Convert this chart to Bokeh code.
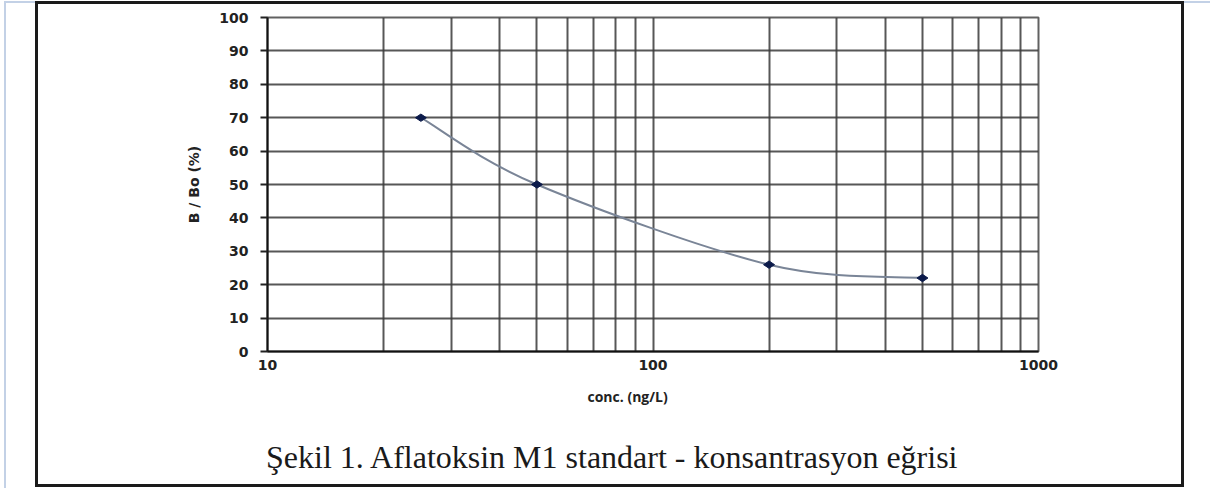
import numpy as np
from bokeh.plotting import figure
from bokeh.layouts import column
from bokeh.models import FixedTicker, Title, Div
from bokeh.embed import file_html
from bokeh.resources import INLINE

# ---- data ----
conc = [25, 50, 200, 500]          # ng/L
b_bo = [70, 50, 26, 22]            # B/Bo (%)
x_major_ticks = [10, 100, 1000]
x_minor_ticks = [20, 30, 40, 50, 60, 70, 80, 90, 200, 300, 400, 500, 600, 700, 800, 900]
y_ticks = [0, 10, 20, 30, 40, 50, 60, 70, 80, 90, 100]
x_label = "conc. (ng/L)"
y_label = "B / Bo (%)"
caption = "Şekil 1. Aflatoksin M1 standart - konsantrasyon eğrisi"

GRID = "#3a3a3a"
BLK = "#1a1a1a"
BLUE = "#c3d1e6"

def bar(color, x, y, w, h):
    return f"linear-gradient({color},{color}) {x}px {y}px / {w}px {h}px no-repeat"

frame_css = ", ".join([
    bar(BLK, 35, 1, 1149, 3),     # top
    bar(BLK, 35, 484, 1149, 3),   # bottom
    bar(BLK, 35, 1, 3, 486),      # left
    bar(BLK, 1181, 1, 3, 486),    # right
    bar(BLUE, 4, 1, 1206, 2),     # light-blue top
    bar(BLUE, 4, 1, 2, 487),      # light-blue left
])

p = figure(width=1210, height=430, x_axis_type="log",
           x_range=(10, 1000), y_range=(0, 100),
           output_backend="svg", toolbar_location=None,
           min_border_left=267, min_border_right=172,
           min_border_top=17, min_border_bottom=79)
p.background_fill_color = "white"
p.border_fill_alpha = 0
p.outline_line_color = GRID
p.outline_line_width = 2
p.outline_line_alpha = 0.8

# axes
p.xaxis.ticker = FixedTicker(ticks=x_major_ticks, minor_ticks=x_minor_ticks)
p.yaxis.ticker = FixedTicker(ticks=y_ticks)
p.xaxis.major_label_overrides = {t: str(t) for t in x_major_ticks}
for ax in (p.xaxis, p.yaxis):
    ax.axis_line_color = "#111111"
    ax.axis_line_width = 2
    ax.major_tick_in = 0
    ax.minor_tick_in = 0
    ax.minor_tick_out = 0
    ax.major_label_text_font = "DejaVu Sans"
    ax.major_label_text_font_style = "bold"
    ax.major_label_text_font_size = "14px"
    ax.major_label_text_color = "#222222"
p.yaxis.major_tick_out = 7
p.yaxis.major_tick_line_color = "#222222"
p.yaxis.major_tick_line_width = 2
p.yaxis.major_label_standoff = 12
p.xaxis.major_tick_out = 0
p.xaxis.major_label_standoff = 8

p.yaxis.axis_label = y_label
p.yaxis.axis_label_text_font = "DejaVu Sans"
p.yaxis.axis_label_text_font_style = "bold"
p.yaxis.axis_label_text_font_size = "14px"
p.yaxis.axis_label_text_color = "#222222"
p.yaxis.axis_label_standoff = 14

# grids
p.xgrid.ticker = p.xaxis.ticker
p.ygrid.ticker = p.yaxis.ticker
for g in (p.xgrid, p.ygrid):
    g.grid_line_color = GRID
    g.grid_line_width = 2
    g.grid_line_alpha = 0.85
p.xgrid.minor_grid_line_color = GRID
p.xgrid.minor_grid_line_width = 2
p.xgrid.minor_grid_line_alpha = 0.85

# smooth (Catmull-Rom style) curve through data, in log-x space
u = np.log10(np.array(conc, dtype=float))
v = np.array(b_bo, dtype=float)
n = len(u)
x0, y0, x1, y1, cx0, cy0, cx1, cy1 = ([] for _ in range(8))
for i in range(n - 1):
    im1 = max(i - 1, 0)
    ip2 = min(i + 2, n - 1)
    c1u = u[i] + (u[i + 1] - u[im1]) / 6.0
    c1v = v[i] + (v[i + 1] - v[im1]) / 6.0
    c2u = u[i + 1] - (u[ip2] - u[i]) / 6.0
    c2v = v[i + 1] - (v[ip2] - v[i]) / 6.0
    x0.append(10 ** u[i]); y0.append(v[i])
    x1.append(10 ** u[i + 1]); y1.append(v[i + 1])
    cx0.append(10 ** c1u); cy0.append(c1v)
    cx1.append(10 ** c2u); cy1.append(c2v)
p.bezier(x0=x0, y0=y0, x1=x1, y1=y1, cx0=cx0, cy0=cy0, cx1=cx1, cy1=cy1,
         line_color="#7a8597", line_width=2)
p.scatter(conc, b_bo, marker="diamond", size=11, angle=np.pi / 2,
          fill_color="#0b1a4a", line_color="#0b1a4a")

# x-axis label as a title below the axis
p.add_layout(Title(text=x_label, align="left", offset=320, standoff=25,
                   text_font="Open Sans", text_font_style="bold", text_font_size="14px",
                   text_color="#222222"), "below")

# caption under the chart
cap = Div(text=caption, width=1210, height=58,
          styles={"font-family": "'Liberation Serif', serif", "font-size": "32px",
                  "line-height": "32px", "color": "#1a1a1a",
                  "padding-top": "6px", "padding-left": "261px",
                  "box-sizing": "border-box", "white-space": "nowrap"})

layout = column(p, cap, spacing=0,
                styles={"background": frame_css + ", white"})

open("out.html", "w").write(file_html(layout, INLINE))
